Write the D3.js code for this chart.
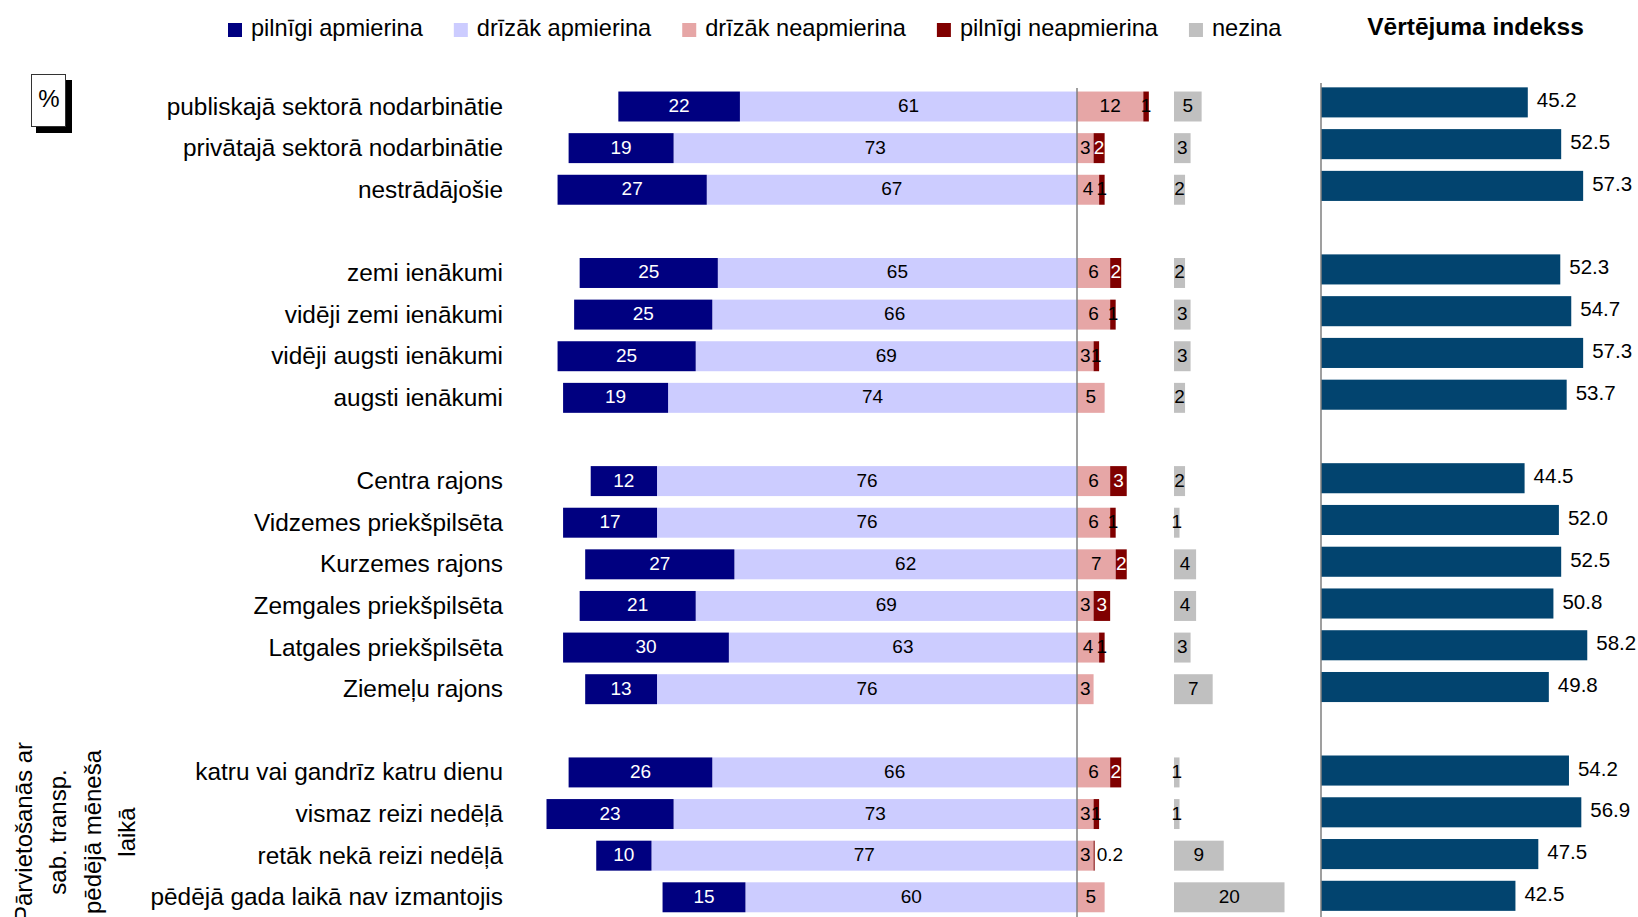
<!DOCTYPE html>
<html>
<head>
<meta charset="utf-8">
<script src="https://cdn.jsdelivr.net/npm/d3@7"></script>
<style>
  body { margin: 0; background: #fff; }
  svg { display: block; font-family: Arial, 'Liberation Sans', sans-serif; }
</style>
</head>
<body>
<svg width="1638" height="917"></svg>
<script>
//## DATA ##
const categories = [
  'publiskajā sektorā nodarbinātie',
  'privātajā sektorā nodarbinātie',
  'nestrādājošie',
  'zemi ienākumi',
  'vidēji zemi ienākumi',
  'vidēji augsti ienākumi',
  'augsti ienākumi',
  'Centra rajons',
  'Vidzemes priekšpilsēta',
  'Kurzemes rajons',
  'Zemgales priekšpilsēta',
  'Latgales priekšpilsēta',
  'Ziemeļu rajons',
  'katru vai gandrīz katru dienu',
  'vismaz reizi nedēļā',
  'retāk nekā reizi nedēļā',
  'pēdējā gada laikā nav izmantojis'
]
const groupSizes = [3, 4, 6, 4]

const pilnigiApmierina = [22, 19, 27, 25, 25, 25, 19, 12, 17, 27, 21, 30, 13, 26, 23, 10, 15]
const drizakApmierina = [61, 73, 67, 65, 66, 69, 74, 76, 76, 62, 69, 63, 76, 66, 73, 77, 60]
const drizakNeapmierina = [12, 3, 4, 6, 6, 3, 5, 6, 6, 7, 3, 4, 3, 6, 3, 3, 5]
const pilnigiNeapmierina = [1, 2, 1, 2, 1, 1, 0, 3, 1, 2, 3, 1, 0, 2, 1, 0.2, 0]
const nezina = [5, 3, 2, 2, 3, 3, 2, 2, 1, 4, 4, 3, 7, 1, 1, 9, 20]
const indekss = [45.2, 52.5, 57.3, 52.3, 54.7, 57.3, 53.7, 44.5, 52.0, 52.5, 50.8, 58.2, 49.8, 54.2, 56.9, 47.5, 42.5]

const seriesNames = ['pilnīgi apmierina', 'drīzāk apmierina', 'drīzāk neapmierina', 'pilnīgi neapmierina', 'nezina']
const indexTitle = 'Vērtējuma indekss'
const sideTitle = ['Pārvietošanās ar', 'sab. transp.', 'pēdējā mēneša', 'laikā']

//## SET D3 VARIABLES ##
const svg = d3.select('svg')
const fontSize = { category: 24.4, label: 19, index: 20.5, legend: 23.6 }
const colors = {
  pa: '#000080',
  da: '#ccccff',
  dn: '#e6a6a6',
  pn: '#800000',
  nz: '#c0c0c0',
  idx: '#02446f'
}
const unit = 5.526 // px per percent
const zeroX = 1077
const nezinaX = 1174
const indexX = 1321

// rows with blank slots between the groups
const slotOf = []
let slot = 0
groupSizes.forEach((size, g) => {
  for (let i = 0; i < size; i++) slotOf.push(slot++)
  if (g < groupSizes.length - 1) slot++
})
const slotCount = slot

const data = categories.map((name, i) => ({
  name: name,
  slot: slotOf[i],
  da: -drizakApmierina[i],
  pa: -pilnigiApmierina[i],
  dn: drizakNeapmierina[i],
  pn: pilnigiNeapmierina[i],
  nz: nezina[i],
  idx: indekss[i]
}))

//-- Scales --
const scaleY = d3.scaleBand()
  .domain(d3.range(slotCount))
  .range([85.7, 918.1])
  .paddingInner(0.28)
  .paddingOuter(0.14)

const scaleYIndex = d3.scaleBand()
  .domain(d3.range(slotCount))
  .range([81.5, 916.7])
  .paddingInner(0.28)
  .paddingOuter(0.14)

const scaleX = d3.scaleLinear()
  .domain([-100, 30])
  .range([zeroX - 100 * unit, zeroX + 30 * unit])

const scaleXNezina = d3.scaleLinear()
  .domain([0, 20])
  .range([nezinaX, nezinaX + 20 * unit])

const scaleXIndex = d3.scaleLinear()
  .domain([0, 60])
  .range([indexX, indexX + 60 * 4.575])

const stackGenerator = d3.stack()
  .keys(['da', 'pa', 'dn', 'pn'])
  .offset(d3.stackOffsetDiverging)

const labelColor = { da: '#000', pa: '#fff', dn: '#000', pn: '#fff' }
const fmt = v => Math.abs(v) < 1 ? String(Math.abs(v)) : String(Math.round(Math.abs(v)))

//## DRAW ##
const drawLegend = function() {
  const keys = ['pa', 'da', 'dn', 'pn', 'nz']
  let x = 228
  const legend = svg.append('g').attr('class', 'legend')
  keys.forEach((key, i) => {
    legend.append('rect')
      .attr('x', x).attr('y', 23)
      .attr('width', 14).attr('height', 14)
      .attr('fill', colors[key])
    const t = legend.append('text')
      .attr('x', x + 23).attr('y', 36)
      .style('font-size', fontSize.legend + 'px')
      .text(seriesNames[i])
    x += 23 + t.node().getComputedTextLength() + 31
  })

  svg.append('text')
    .attr('x', 1475.5).attr('y', 35)
    .attr('text-anchor', 'middle')
    .style('font-size', '24.5px')
    .style('font-weight', 'bold')
    .text(indexTitle)
}

const drawPercentBox = function() {
  svg.append('rect').attr('x', 36).attr('y', 80).attr('width', 36).attr('height', 53).attr('fill', '#000')
  svg.append('rect').attr('x', 31.5).attr('y', 74.5).attr('width', 34).attr('height', 52)
    .attr('fill', '#fff').attr('stroke', '#333').attr('stroke-width', 1)
  svg.append('text')
    .attr('x', 49).attr('y', 107)
    .attr('text-anchor', 'middle')
    .style('font-size', '24px')
    .text('%')
}

const drawSideTitle = function() {
  const g = svg.append('g').attr('transform', 'translate(0,832) rotate(-90)')
  sideTitle.forEach((line, i) => {
    g.append('text')
      .attr('x', 0)
      .attr('y', 32 + i * 34.3)
      .attr('text-anchor', 'middle')
      .style('font-size', '24px')
      .text(line)
  })
}

const drawCategories = function() {
  svg.append('g').selectAll('text').data(data)
    .enter().append('text')
      .attr('x', 503)
      .attr('y', d => scaleY(d.slot) + scaleY.bandwidth() / 2 + 8)
      .attr('text-anchor', 'end')
      .style('font-size', fontSize.category + 'px')
      .text(d => d.name)
}

const drawStacked = function() {
  const layers = stackGenerator(data)

  const layerGroups = svg.selectAll('.layer').data(layers)
    .enter().append('g')
      .attr('class', 'layer')
      .attr('fill', d => colors[d.key])

  layerGroups.selectAll('rect').data(d => d)
    .enter().append('rect')
      .attr('x', d => scaleX(Math.min(d[0], d[1])))
      .attr('y', d => scaleY(d.data.slot))
      .attr('width', d => Math.abs(scaleX(d[1]) - scaleX(d[0])))
      .attr('height', scaleY.bandwidth())

  // zero line
  svg.append('line')
    .attr('x1', zeroX).attr('x2', zeroX)
    .attr('y1', 88).attr('y2', 917)
    .attr('stroke', '#7f7f7f').attr('stroke-width', 1.5)

  layers.forEach(layer => {
    svg.append('g').selectAll('text').data(layer.filter(d => d.data[layer.key] !== 0))
      .enter().append('text')
        .attr('x', d => {
          const v = Math.abs(d.data[layer.key])
          if (v < 0.5) return scaleX(Math.max(d[0], d[1])) + 2
          return (scaleX(d[0]) + scaleX(d[1])) / 2
        })
        .attr('y', d => scaleY(d.data.slot) + scaleY.bandwidth() / 2 + 5.5)
        .attr('text-anchor', d => Math.abs(d.data[layer.key]) < 0.5 ? 'start' : 'middle')
        .attr('fill', d => {
          const w = Math.abs(scaleX(d[1]) - scaleX(d[0]))
          return w >= 10 ? labelColor[layer.key] : '#000'
        })
        .style('font-size', fontSize.label + 'px')
        .text(d => fmt(d.data[layer.key]))
  })
}

const drawNezina = function() {
  const g = svg.append('g').attr('class', 'nezina')
  g.selectAll('rect').data(data)
    .enter().append('rect')
      .attr('x', scaleXNezina(0))
      .attr('y', d => scaleY(d.slot))
      .attr('width', d => scaleXNezina(d.nz) - scaleXNezina(0))
      .attr('height', scaleY.bandwidth())
      .attr('fill', colors.nz)

  g.selectAll('text').data(data)
    .enter().append('text')
      .attr('x', d => (scaleXNezina(0) + scaleXNezina(d.nz)) / 2)
      .attr('y', d => scaleY(d.slot) + scaleY.bandwidth() / 2 + 5.5)
      .attr('text-anchor', 'middle')
      .style('font-size', fontSize.label + 'px')
      .text(d => fmt(d.nz))
}

const drawIndex = function() {
  const g = svg.append('g').attr('class', 'index')
  g.selectAll('rect').data(data)
    .enter().append('rect')
      .attr('x', scaleXIndex(0))
      .attr('y', d => scaleYIndex(d.slot))
      .attr('width', d => scaleXIndex(d.idx) - scaleXIndex(0))
      .attr('height', scaleYIndex.bandwidth())
      .attr('fill', colors.idx)

  g.selectAll('text').data(data)
    .enter().append('text')
      .attr('x', d => scaleXIndex(d.idx) + 9)
      .attr('y', d => scaleYIndex(d.slot) + scaleYIndex.bandwidth() / 2 + 5)
      .style('font-size', fontSize.index + 'px')
      .text(d => d.idx.toFixed(1))

  g.append('line')
    .attr('x1', indexX).attr('x2', indexX)
    .attr('y1', 83).attr('y2', 917)
    .attr('stroke', '#7f7f7f').attr('stroke-width', 1.5)
}

drawLegend()
drawPercentBox()
drawSideTitle()
drawCategories()
drawStacked()
drawNezina()
drawIndex()
</script>
</body>
</html>
